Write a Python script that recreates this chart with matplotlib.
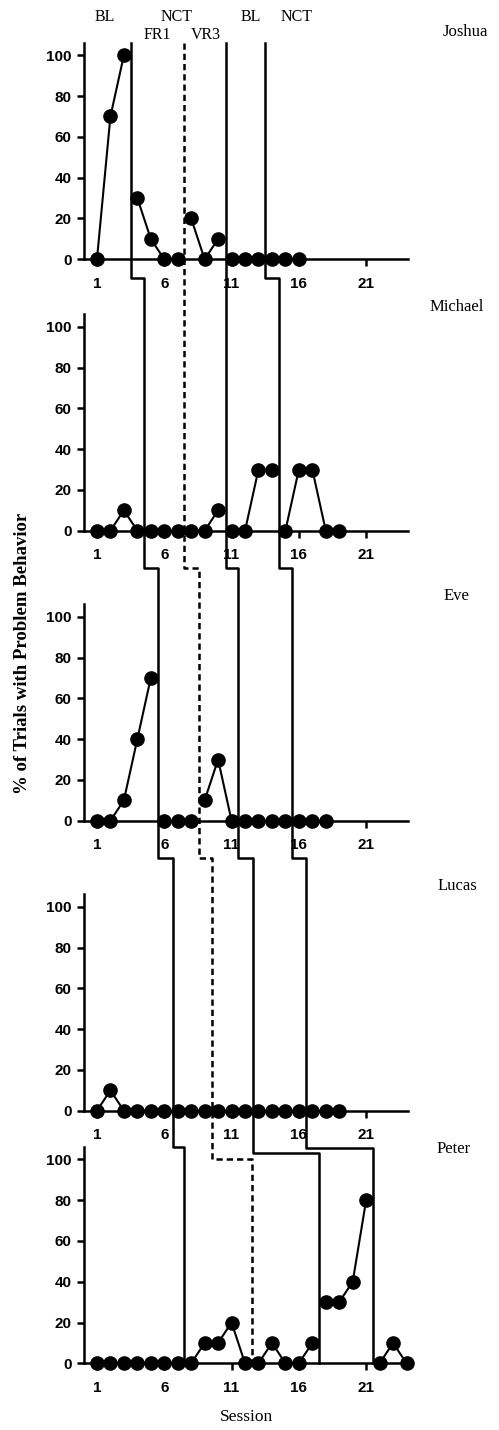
import numpy as np
import matplotlib
matplotlib.use("Agg")
import matplotlib.pyplot as plt
from matplotlib.lines import Line2D

# datos por participante (% de ensayos con conducta problema por sesion)
nombres = ["Joshua", "Michael", "Eve", "Lucas", "Peter"]
joshua = [0, 70, 100, 30, 10, 0, 0, 20, 0, 10, 0, 0, 0, 0, 0, 0]
michael = [0, 0, 10, 0, 0, 0, 0, 0, 0, 10, 0, 0, 30, 30, 0, 30, 30, 0, 0]
eve = [0, 0, 10, 40, 70, 0, 0, 0, 10, 30, 0, 0, 0, 0, 0, 0, 0, 0]
lucas = [0, 10, 0, 0, 0, 0, 0, 0, 0, 0, 0, 0, 0, 0, 0, 0, 0, 0, 0]
peter = [0, 0, 0, 0, 0, 0, 0, 0, 10, 10, 20, 0, 0, 10, 0, 0, 10, 30, 30, 40, 80, 0, 10, 0]
series = [joshua, michael, eve, lucas, peter]

# cambios de fase (sesion) para cada participante
fase_1 = [3.5, 4.5, 5.5, 6.65, 7.5]        # BL -> FR1
fase_2 = [7.5, 7.5, 8.55, 9.55, 12.55]     # FR1 -> VR3 (discontinua)
fase_3 = [10.55, 10.55, 11.5, 12.6, 17.5]  # VR3 -> BL
fase_4 = [13.5, 14.5, 15.5, 16.55, 21.5]   # BL -> NCT
fases = [fase_1, fase_2, fase_3, fase_4]

etiquetas_fase = ["BL", "NCT", "FR1", "VR3", "BL", "NCT"]
xticks = [1, 6, 11, 16, 21]
yticks = [0, 20, 40, 60, 80, 100]

W, H = 499, 1430
fig = plt.figure(figsize=(W / 100, H / 100), dpi=100)

serif = "Liberation Serif"
sans = "Liberation Sans"

# geometria de los paneles (px)
x0_px, px_ses, xmax = 83.5, 13.46, 24.1
ppu, ymax = 2.04, 106
cero_px = [259.3, 530.7, 820.7, 1110.7, 1363.3]

axes = []
for i, z in enumerate(cero_px):
    ax = fig.add_axes([x0_px / W, 1 - z / H, xmax * px_ses / W, ymax * ppu / H])
    ax.set_xlim(0, xmax)
    ax.set_ylim(0, ymax)
    for s in ["top", "right"]:
        ax.spines[s].set_visible(False)
    for s in ["left", "bottom"]:
        ax.spines[s].set_linewidth(1.8)
    ax.set_xticks(xticks)
    ax.set_yticks(yticks)
    ax.tick_params(width=1.8, length=5, direction="out")
    ax.tick_params(axis="y", pad=3.5)
    ax.tick_params(axis="x", pad=7.5)
    for lab in ax.get_xticklabels() + ax.get_yticklabels():
        lab.set_fontfamily(sans)
        lab.set_fontweight("bold")
        lab.set_fontsize(11)
    ax.patch.set_visible(False)

    # puntos unidos solo dentro de cada fase
    vals = np.array(series[i], dtype=float)
    ses = np.arange(1, len(vals) + 1)
    limites = [-np.inf] + [f[i] for f in fases] + [np.inf]
    for a, b in zip(limites[:-1], limites[1:]):
        m = (ses > a) & (ses < b)
        if m.any():
            ax.plot(ses[m], vals[m], color="black", lw=1.5, marker="o",
                    ms=9.5, clip_on=False, zorder=3)
    axes.append(ax)

# lineas de cambio de fase en escalera
niveles = [124, 124, 124]
ultimo_nivel = [106.2, 100.2, 103.1, 105.7]
to_fig = fig.transFigure.inverted()
for k, f in enumerate(fases):
    pts = [axes[0].transData.transform((f[0], ymax))]
    for i in range(4):
        nivel = niveles[i] if i < 3 else ultimo_nivel[k]
        pts.append(axes[i + 1].transData.transform((f[i], nivel)))
        pts.append(axes[i + 1].transData.transform((f[i + 1], nivel)))
    pts.append(axes[4].transData.transform((f[4], 0)))
    pts = to_fig.transform(np.array(pts))
    ls = (0, (2.5, 1.6)) if k == 1 else "-"
    fig.add_artist(Line2D(pts[:, 0], pts[:, 1], color="black", lw=1.8,
                          ls=ls, transform=fig.transFigure, zorder=2))

# etiquetas de fase arriba
pos_etq = [(1.6, 118.9), (6.9, 118.9), (5.45, 110.0), (9.1, 110.0),
           (12.4, 118.9), (15.85, 118.9)]
for t, (x, y) in zip(etiquetas_fase, pos_etq):
    axes[0].text(x, y, t, ha="center", va="center", fontfamily=serif,
                 fontsize=11.5)

# nombres
pos_nom = [(465, 32), (457, 306.7), (456.5, 596), (457, 886), (454, 1149.3)]
for n, (x, y) in zip(nombres, pos_nom):
    fig.text(x / W, 1 - y / H, n, ha="center", va="center",
             fontfamily=serif, fontsize=12)

fig.text(23 / W, 1 - 653 / H, "% of Trials with Problem Behavior",
         rotation=90, ha="center", va="center", fontfamily=serif,
         fontweight="bold", fontsize=13.5)
fig.text(246.7 / W, 1 - 1416.7 / H, "Session", ha="center", va="center",
         fontfamily=serif, fontsize=12.5)

fig.savefig("out.png", dpi=100)
